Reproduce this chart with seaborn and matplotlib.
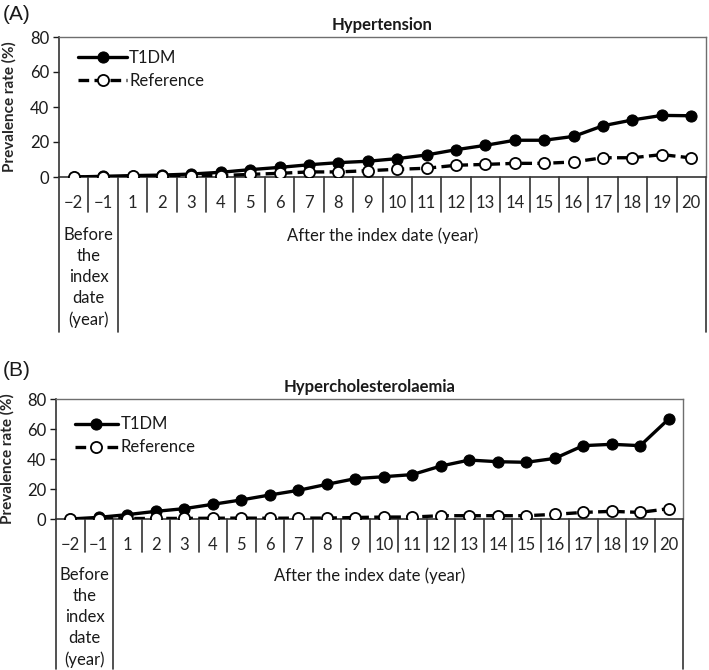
import numpy as np
import pandas as pd
import matplotlib
matplotlib.use("Agg")
import matplotlib.pyplot as plt
import seaborn as sns

# categories on the x axis (years relative to the index date)
years = ["\u22122", "\u22121"] + [str(i) for i in range(1, 21)]

# (A) Hypertension, prevalence rate (%)
htn_t1dm = [0.0, 0.4, 0.8, 1.1, 1.7, 2.7, 4.2, 5.5, 7.0, 8.2, 9.0, 10.5,
            12.6, 15.6, 18.1, 21.0, 21.0, 23.2, 29.3, 32.6, 35.2, 35.0]
htn_ref = [0.0, 0.1, 0.3, 0.3, 0.8, 0.8, 1.5, 2.1, 2.9, 2.9, 3.6, 4.4,
           5.0, 6.7, 7.2, 7.8, 7.8, 8.6, 11.0, 11.0, 12.8, 10.9]

# (B) Hypercholesterolaemia, prevalence rate (%)
hchol_t1dm = [0.0, 1.1, 2.9, 5.1, 6.9, 9.8, 12.7, 16.0, 19.1, 23.1, 26.9, 28.2,
              29.6, 35.3, 39.3, 38.2, 37.8, 40.4, 48.9, 49.8, 48.9, 66.7]
hchol_ref = [0.0, 0.1, 0.3, 0.4, 0.4, 0.5, 0.6, 0.5, 0.6, 0.6, 1.0, 1.3,
             1.3, 2.2, 2.2, 2.2, 2.2, 3.1, 4.4, 5.1, 4.4, 6.9]

sns.set_style("white")
plt.rcParams["font.family"] = ["Lato", "DejaVu Sans"]
plt.rcParams["text.color"] = "#1a1a1a"

W, H = 709, 670
fig = plt.figure(figsize=(W / 100, H / 100), dpi=100)


def panel(box, tag, tag_y, title, t1dm, ref, leg_y, hlen, long_px, short_px, before_px):
    left, top, right, bottom = box
    ax = fig.add_axes([left / W, 1 - bottom / H, (right - left) / W, (bottom - top) / H])
    hpx = bottom - top
    pos = np.arange(len(years))
    df = pd.DataFrame({"pos": pos, "T1DM": t1dm, "Reference": ref})

    sns.lineplot(data=df, x="pos", y="T1DM", ax=ax, color="black", lw=2.4,
                 marker="o", markersize=8, markerfacecolor="black",
                 markeredgecolor="black", label="T1DM", zorder=3)
    sns.lineplot(data=df, x="pos", y="Reference", ax=ax, color="black", lw=2.4,
                 linestyle=(0, (3.2, 1.6)), marker="o", markersize=8,
                 markerfacecolor="white", markeredgecolor="black",
                 markeredgewidth=1.3, label="Reference", zorder=4)

    ax.set_xlim(-0.5, len(years) - 0.5)
    ax.set_ylim(0, 80)
    ax.set_yticks([0, 20, 40, 60, 80])
    ax.tick_params(axis="y", labelsize=12, length=4, width=1, direction="out",
                   pad=3, colors="#1a1a1a", left=True)
    ax.set_xticks(pos)
    ax.set_xticklabels(years)
    ax.tick_params(axis="x", labelsize=12, length=0, pad=13)
    ax.set_xlabel("")
    ax.set_ylabel("Prevalence rate (%)", fontsize=11, fontweight="bold")
    ax.yaxis.set_label_coords(-0.066, 0.5)

    for s in ["top", "right"]:
        ax.spines[s].set_color("#6e6e6e")
        ax.spines[s].set_linewidth(1.0)
    for s in ["left", "bottom"]:
        ax.spines[s].set_color("#333333")
        ax.spines[s].set_linewidth(1.2)

    # multi-level category axis: separators and group boxes
    tr = ax.get_xaxis_transform()
    for k in range(1, len(years)):
        if k == 2:
            continue
        ax.plot([k - 0.5, k - 0.5], [0, -short_px / hpx], transform=tr,
                color="#333333", lw=1.2, clip_on=False)
    for xb in [-0.5, 1.5, len(years) - 0.5]:
        ax.plot([xb, xb], [0, -long_px / hpx], transform=tr,
                color="#333333", lw=1.2, clip_on=False)
    ax.text(0.5, -before_px / hpx, "Before\nthe\nindex\ndate\n(year)", transform=tr,
            ha="center", va="top", fontsize=12, linespacing=1.38)
    ax.text(10.5, -before_px / hpx, "After the index date (year)", transform=tr,
            ha="center", va="top", fontsize=12)

    ax.set_title(title, fontsize=12, fontweight="bold", pad=5)
    ax.legend(loc="upper left", bbox_to_anchor=(0.03, leg_y), frameon=False,
              fontsize=12, handlelength=hlen, handletextpad=0.15,
              borderpad=0, borderaxespad=0, labelspacing=0.42)
    fig.text(0.004, 1 - tag_y / H, tag, fontsize=15, va="center", ha="left",
             family=["Liberation Sans", "DejaVu Sans"])
    return ax


panel((59, 37, 706, 177), "(A)", 14, "Hypertension", htn_t1dm, htn_ref,
      0.905, 2.9, 155, 35, 50)
panel((56, 399, 683, 519), "(B)", 371, "Hypercholesterolaemia", hchol_t1dm, hchol_ref,
      0.855, 2.6, 150, 33, 48)

fig.savefig("out.png", dpi=100)
